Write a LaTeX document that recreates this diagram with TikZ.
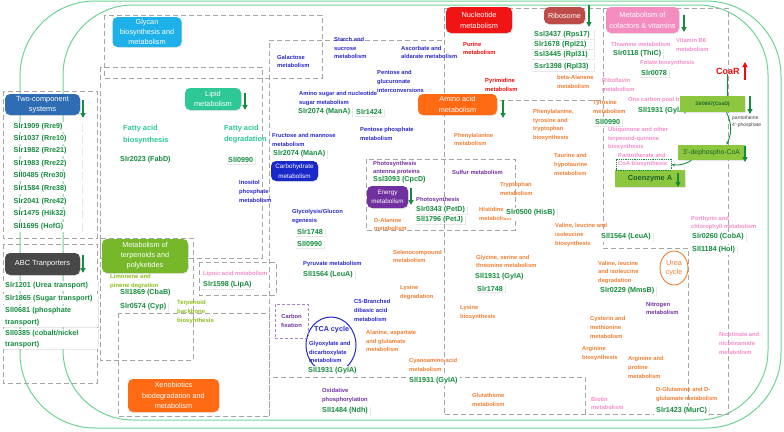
\documentclass[tikz,border=0pt]{standalone}
\usepackage{fontspec}
\setmainfont{Liberation Sans}
\usetikzlibrary{arrows.meta,shapes.geometric,shadows}
\newcommand\fsz[2]{\fontsize{#1}{#2}\selectfont}
\definecolor{cGene}{RGB}{20,140,60}
\definecolor{cOr}{RGB}{240,125,50}
\definecolor{cBl}{RGB}{40,40,200}
\definecolor{cPk}{RGB}{245,140,200}
\definecolor{cPu}{RGB}{112,48,160}
\definecolor{cRd}{RGB}{240,10,10}
\definecolor{cTeal}{RGB}{40,200,150}
\definecolor{cOl}{RGB}{140,190,30}
\definecolor{cMem}{RGB}{110,210,150}
\definecolor{cGray}{RGB}{165,165,165}
\definecolor{cDk}{RGB}{25,100,40}
\definecolor{fGly}{RGB}{30,176,232}
\definecolor{fTwo}{RGB}{46,109,180}
\definecolor{fLip}{RGB}{45,200,150}
\definecolor{fTer}{RGB}{118,184,42}
\definecolor{fAbc}{RGB}{72,72,72}
\definecolor{fCarb}{RGB}{25,40,200}
\definecolor{fEn}{RGB}{112,48,160}
\definecolor{fNuc}{RGB}{240,20,20}
\definecolor{fRib}{RGB}{190,75,72}
\definecolor{fAm}{RGB}{255,106,19}
\definecolor{fCof}{RGB}{245,140,192}
\definecolor{fCoa}{RGB}{141,198,63}
\begin{document}
\begin{tikzpicture}[x=1pt,y=-1pt,
 lbl/.style={font=\fsz{5.8}{8.6}\bfseries, align=left, anchor=west, inner sep=0pt},
 orl/.style={lbl,text=cOr}, bll/.style={lbl,text=cBl}, pkl/.style={lbl,text=cPk},
 pul/.style={lbl,text=cPu}, rdl/.style={lbl,text=cRd},
 oll/.style={lbl,text=cOl,font=\fsz{6}{9}\bfseries},
 tll/.style={lbl,text=cTeal,font=\fsz{7.4}{11.5}\bfseries},
 gene/.style={font=\fsz{7.2}{11.5}\bfseries, text=cGene, fill=white, anchor=west, inner xsep=2pt, inner ysep=1.2pt, align=left, drop shadow={opacity=0.18,shadow xshift=0.7pt,shadow yshift=-0.7pt}},
 cat/.style={rounded corners=5pt, text=white, align=center, inner sep=0pt, font=\fsz{7.4}{10.5}, drop shadow={opacity=0.2,shadow xshift=0.8pt,shadow yshift=-0.8pt}},
 cbox/.style={fill=fCoa, text=cDk, inner sep=0pt, drop shadow={opacity=0.2,shadow xshift=0.7pt,shadow yshift=-0.7pt}},
 dn/.style={-{Triangle[width=5pt,length=5pt]}, line width=1.5pt, draw=cGene},
 dbox/.style={draw=cGray, line width=0.9pt, dash pattern=on 5pt off 3pt},
 mem/.style={draw=cMem, line width=1pt},
]
\useasboundingbox (0,0) rectangle (784,431);
% membrane
\draw[mem, rounded corners=75pt] (20,1) rectangle (781,428);
\draw[mem, rounded corners=70pt] (63,5) rectangle (768,420);
% dashed regions
\draw[dbox] (104,15) rectangle (322,78);
\draw[dbox] (3,91) rectangle (97,238);
\draw[dbox] (3,244) rectangle (97,383);
\draw[dbox] (100,67) rectangle (262,258);
\draw[dbox] (100,238) rectangle (193,360);
\draw[dbox] (199,262) rectangle (276,295);
\draw[dbox] (118,313) rectangle (269,416);
\draw[dbox] (269,416) -- (269,40) -- (444,40);
\draw[dbox] (444,8) -- (444,414);
\draw[dbox] (273,377) -- (585,377) -- (585,414);
\draw[dbox] (366,159) rectangle (515,230);
\draw[dbox] (444,100) -- (603,100);
\draw[dbox] (444,8) -- (728,8) -- (728,414) -- (444,414);
\draw[dbox] (603,8) -- (603,248) -- (688,248) -- (688,414);
% lipid
\node[tll] (fab) at (123,134.5) {Fatty acid\\biosynthesis};
\node[gene] (fabd) at (118,160) {Slr2023 (FabD)};
\node[tll] (fad) at (224,134) {Fatty acid\\degradation};
\node[gene] (g0990a) at (226,160) {Sll0990};
% terpenoid
\node[oll] (limo) at (110,281.5) {Limonene and\\pinene degration};
\node[gene] (cbab) at (118,293) {Sll1869 (CbaB)};
\node[gene] (cyp) at (118,307) {Slr0574 (Cyp)};
\node[oll] (tbb) at (177,311.5) {Terpenoid\\backbone\\biosynthesis};
% lipoic
\node[pkl] (lipo) at (203,274) {Lipoic acid metabolism};
\node[gene] (lipa) at (201,284.5) {Slr1598 (LipA)};
% carbohydrate
\node[bll] (gal) at (277,61.5) {Galactose\\metabolism};
\node[bll] (sta) at (334,48) {Starch and\\sucrose\\metabolism};
\node[bll] (asc) at (401,52.5) {Ascorbate and\\aldarate metabolism};
\node[bll] (pen) at (377,81.5) {Pentose and\\glucuronate\\interconversions};
\node[bll] (ams) at (299,98.5) {Amino sugar and nucleotide\\sugar metabolism};
\node[gene] (mana1) at (296,112) {Slr2074 (ManA)};
\node[gene] (s1424) at (354,112) {Slr1424};
\node[bll] (ppm) at (360,134) {Pentose phosphate\\metabolism};
\node[bll] (frm) at (272,140) {Fructose and mannose\\metabolism};
\node[gene] (mana2) at (271,154) {Slr2074 (ManA)};
\node[bll] (ino) at (239,191.5) {Inositol\\phosphate\\metabolism};
\node[bll] (gly) at (292,216.5) {Glycolysis/Glucon\\egenesis};
\node[gene] (s1748a) at (295,232) {Slr1748};
\node[gene] (s0990b) at (295,244) {Sll0990};
\node[bll] (pyr) at (303,264) {Pyruvate metabolism};
\node[gene] (leua1) at (301,275) {Sll1564 (LeuA)};
\node[bll] (c5) at (354,310.5) {C5-Branched\\dibasic acid\\metabolism};
\node[draw=cBl, line width=1pt, ellipse, minimum width=50pt, minimum height=56pt, inner sep=0pt] (tca) at (331,345) {};
\node[font=\fsz{7.2}{8}\bfseries, text=cBl, anchor=west, inner sep=0pt] (tcat) at (314,330) {TCA cycle};
\node[bll] (glx) at (309,352) {Glyoxylate and\\dicarboxylate\\metabolism};
\node[gene] (gyla2) at (306,371) {Sll1931 (GylA)};
\node[draw=cPu!60, dash pattern=on 3pt off 2pt, line width=0.8pt, minimum width=33pt, minimum height=34pt, text=cPu, font=\fsz{5.8}{9.5}\bfseries, align=center, inner sep=0pt] (cfix) at (291.5,321) {Carbon\\fixation};
% energy
\node[pul] (pap) at (373,168) {Photosynthesis\\antenna proteins};
\node[gene] (cpcd) at (371,180) {Ssl3093 (CpcD)};
\node[pul] (pho) at (416,200) {Photosynthesis};
\node[gene] (petd) at (414,209.5) {Slr0343 (PetD)};
\node[gene] (petj) at (414,219.5) {Sll1796 (PetJ)};
\node[pul] (sul) at (452,172) {Sulfur metabolism};
\node[orl] (dal) at (374,224.5) {D-Alanine\\metabolism};
\node[pul] (oxp) at (322,395.5) {Oxidative\\phosphorylation};
\node[gene] (ndh) at (320,411) {Sll1484 (Ndh)};
% amino acids
\node[orl] (phm) at (454,139.5) {Phenylalanine\\metabolism};
\node[orl] (pty) at (533,125) {Phenylalanine,\\tyrosine and\\tryptophan\\biosynthesis};
\node[orl] (bal) at (557,82) {beta-Alanene\\metabolism};
\node[orl] (tym) at (593,107) {Tyrosine\\metabolism};
\node[gene] (s0990c) at (593,122) {Sll0990};
\node[orl] (tau) at (554,164.5) {Taurine and\\hypotaurine\\metabolism};
\node[orl] (trp) at (500,189) {Tryptophan\\metabolism};
\node[orl] (his) at (479,214) {Histidine\\metabolism};
\node[gene] (hisb) at (504,213) {Slr0500 (HisB)};
\node[orl] (vlb) at (555,235) {Valine, leucine and\\isoleucine\\biosynthesis};
\node[gene] (leua2) at (599,237) {Sll1564 (LeuA)};
\node[orl] (sel) at (393,256.5) {Selenocompound\\metabolism};
\node[orl] (gst) at (476,261.5) {Glycine, serine and\\threonine metabolism};
\node[gene] (gyla3) at (473,277) {Sll1931 (GylA)};
\node[gene] (s1748b) at (475,288.5) {Slr1748};
\node[orl] (lyd) at (400,292.5) {Lysine\\degradation};
\node[orl] (lyb) at (460,312.5) {Lysine\\biosynthesis};
\node[orl] (aag) at (366,341) {Alanine, aspartate\\and glutamate\\metabolism};
\node[orl] (cya) at (409,365) {Cyanoamino acid\\metabolism};
\node[gene] (gyla4) at (407,381) {Sll1931 (GylA)};
\node[orl] (gth) at (472,400) {Glutathione\\metabolism};
\node[orl] (vld) at (598,272.5) {Valine, leucine\\and isoleucine\\degradation};
\node[gene] (mmsb) at (598,291) {Slr0229 (MmsB)};
\node[draw=cOr, line width=0.9pt, ellipse, minimum width=28pt, minimum height=34pt, text=cOr, font=\fsz{7.3}{9.5}, align=center, inner sep=0pt] (urea) at (674,268) {Urea\\cycle};
\node[pul] (nit) at (646,308.5) {Nitrogen\\metabolism};
\node[orl] (cys) at (590,327.5) {Cysterin and\\methionine\\metabolism};
\node[orl] (arb) at (582,353.5) {Arginine\\biosynthesis};
\node[orl] (arp) at (628,367.5) {Arginine and\\protine\\metabolism};
\node[orl] (dgl) at (656,394.5) {D-Glutamine and D-\\glutamate metabolism};
\node[gene] (murc) at (654,411) {Slr1423 (MurC)};
\node[pkl] (bio) at (591,403.5) {Biotin\\metabolism};
% nucleotide
\node[rdl] (pur) at (463,48.5) {Purine\\metabolism};
\node[rdl] (pyrm) at (485,85) {Pyrimidine\\metabolism};
% cofactors
\node[pkl] (thi) at (611,44) {Thiamine metabolism};
\node[pkl] (b6) at (676,45) {Vitamin B6\\metabolism};
\node[gene] (thic) at (611,54) {Slr0118 (ThiC)};
\node[pkl] (fol) at (640,63) {Folate biosynthesis};
\node[gene] (s0078) at (639,73) {Slr0078};
\node[pkl] (rib) at (602,85) {Riboflavin\\metabolism};
\node[pkl] (ocp) at (628,100) {One carbon pool by folate};
\node[gene] (gyla1) at (636,111) {Sll1931 (GylA)};
\node[pkl] (ubi) at (608,138.5) {Ubiquinone and other\\terpenoid-quinone\\biosynthesis};
\node[font=\fsz{5}{7}, text=black!75, align=left, anchor=west, inner sep=0pt] (ppt) at (732,121.5) {pantotheine\\4'-phosphate};
\node[pkl] (por) at (691,223) {Porthyrin and\\chlorophyll metabolism};
\node[gene] (coba) at (690,237) {Slr0260 (CobA)};
\node[gene] (hol) at (690,250) {Sll1184 (Hol)};
\node[pkl] (nic) at (719,343.5) {Nicotinate and\\nicotinamide\\metabolism};
\node[font=\fsz{9}{10}\bfseries, text=cRd, anchor=west, inner sep=0pt] (coar) at (716,71) {CoaR};
\node[cbox, minimum width=65pt, minimum height=16pt, font=\fsz{5}{6}\bfseries] (coad) at (712.5,104) {Slr0847(CoaD)};
\node[cbox, minimum width=67pt, minimum height=15pt, font=\fsz{6.8}{8}] (dephos) at (711.5,152.5) {3'-dephospho-CoA};
\node[cbox, minimum width=70pt, minimum height=17pt, font=\fsz{7.4}{8}\bfseries] (coena) at (650,178.5) {Coenzyme A};
\node[draw=cGene, densely dotted, line width=0.8pt, minimum width=55pt, minimum height=11pt, inner sep=0pt] (pantobox) at (643.5,164.5) {};
\node[pkl] (panto) at (618,160) {Pantotherate and\\CoA biosynthesis};
\draw[cGene, line width=1pt] (coar.south) -- (coar.south |- coad.north);
\draw[cGene, line width=0.9pt, -{Stealth[length=3.5pt]}] ([xshift=14pt]coad.south) to[bend left=25] ([xshift=15pt]dephos.north);
\draw[cGene, line width=0.9pt, -{Stealth[length=3.5pt]}] ([xshift=-20pt]dephos.south) to[bend left=20] (pantobox.east);
% category boxes
\node[cat, fill=fGly, minimum width=69pt, minimum height=30pt, font=\fsz{7.3}{10}] (glycan) at (147,32) {Glycan\\biosynthesis and\\metabolism};
\node[cat, fill=fTwo, minimum width=75pt, minimum height=21pt] (twocomp) at (42.5,104.5) {Two-component\\systems};
\node[cat, fill=fAbc, minimum width=75pt, minimum height=22pt] (abc) at (42.5,264) {ABC Tranporters};
\node[cat, fill=fLip, minimum width=56pt, minimum height=22pt] (lipid) at (213,99) {Lipid\\metabolism};
\node[cat, fill=fTer, minimum width=86pt, minimum height=34pt, font=\fsz{7.3}{10}] (terp) at (145,256) {Metabolism of\\terpenoids and\\polyketides};
\node[cat, fill=fCarb, minimum width=47pt, minimum height=20pt, font=\fsz{6.3}{9.5}] (carb) at (294.5,171) {Carbohydrate\\metabolism};
\node[cat, fill=fEn, minimum width=41pt, minimum height=22pt, font=\fsz{6.3}{9.5}] (energy) at (387.5,197) {Energy\\metabolism};
\node[cat, fill=fNuc, minimum width=66pt, minimum height=26pt, font=\fsz{7.4}{11}] (nucl) at (479,20) {Nucleotide\\metabolism};
\node[cat, fill=fRib, minimum width=41pt, minimum height=17pt, font=\fsz{7.3}{8}] (ribo) at (564.5,15.5) {Ribosome};
\node[cat, fill=fAm, minimum width=79pt, minimum height=21pt, font=\fsz{7.3}{11}] (amino) at (457.5,104.5) {Amino acid\\metabolism};
\node[cat, fill=fAm, minimum width=91pt, minimum height=33pt, font=\fsz{7.3}{10.5}] (xeno) at (173.5,395.5) {Xenobiotics\\biodegradation and\\metabolism};
\node[cat, fill=fCof, minimum width=73pt, minimum height=26pt, font=\fsz{7.4}{11}] (cofact) at (642.5,20) {Metabolism of\\cofactors \& vitamins};
% gene lists
\foreach \t/\y [count=\i] in {Slr1909 (Rre9)/127, Slr1037 (Rre10)/139, Slr1982 (Rre21)/151, Slr1983 (Rre22)/164, Sll0485 (Rre30)/176, Slr1584 (Rre38)/189, Slr2041 (Rre42)/202, Slr1475 (Hik32)/214, Sll1695 (HofG)/227}
  \node[gene, text width=65pt, inner xsep=3.5pt] (tc\i) at (10,\y) {\t};
\node[gene, text width=91pt, inner xsep=2pt] (abc1) at (3,286) {Slr1201 (Urea transport)};
\node[gene, text width=91pt, inner xsep=2pt] (abc2) at (3,299) {Slr1865 (Sugar transport)};
\node[gene, text width=91pt, inner xsep=2pt] (abc3) at (3,316.5) {Sll0681 (phosphate\\transport)};
\node[gene, text width=91pt, inner xsep=2pt] (abc4) at (3,339) {Sll0385 (cobalt/nickel\\transport)};
\foreach \t/\y [count=\i] in {Ssl3437 (Rps17)/34.3, Slr1678 (Rpl21)/44.3, Ssl3445 (Rpl31)/54.5, Ssr1398 (Rpl33)/66.7}
  \node[gene, text width=57pt, inner xsep=3pt] (rb\i) at (531,\y) {\t};
% regulation arrows
\draw[dn] (83,100) -- (83,118);
\draw[dn] (83,255) -- (83,273);
\draw[dn] (245,93) -- (245,110);
\draw[dn] (589,5) -- (589,27);
\draw[dn] (503,100) -- (503,118);
\draw[dn] (684,15) -- (684,32);
\draw[dn] (411,188) -- (411,205);
\draw[dn] (750,96) -- (750,114);
\draw[dn] (745,146) -- (745,162);
\draw[dn] (678,173) -- (678,187);
\draw[dn, draw=cRd] (745,80) -- (745,62);
\end{tikzpicture}
\end{document}
